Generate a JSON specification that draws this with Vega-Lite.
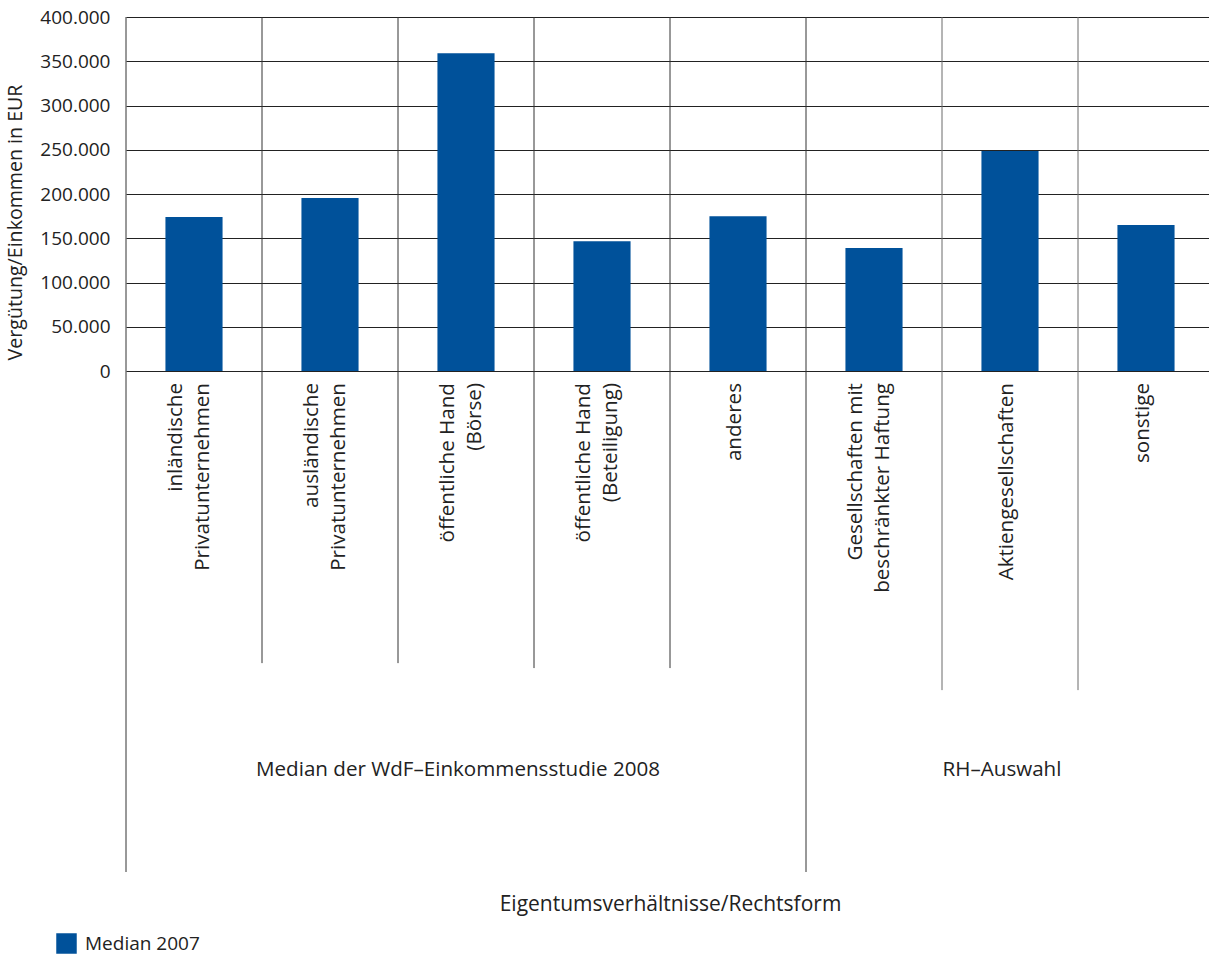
{
  "$schema": "https://vega.github.io/schema/vega-lite/v6.json",
  "autosize": {"type": "none"},
  "padding": {"left": 126, "top": 17, "right": 0, "bottom": 83},
  "width": 1083,
  "height": 855,
  "config": {
    "locale": {"number": {"decimal": ",", "thousands": ".", "grouping": [3], "currency": ["", " €"]}},
    "font": "Open Sans",
    "view": {"stroke": null},
    "text": {"font": "Open Sans", "color": "#222222"},
    "axisX": {
      "labels": false,
      "ticks": false,
      "domain": false,
      "grid": false,
      "titleFont": "Open Sans",
      "titleFontSize": 21,
      "titleFontWeight": "normal",
      "titleColor": "#222222",
      "titlePadding": 21
    }
  },
  "datasets": {
    "main": [
      {"kategorie": "inländische\nPrivatunternehmen", "wert": 174000, "serie": "Median 2007"},
      {"kategorie": "ausländische\nPrivatunternehmen", "wert": 195500, "serie": "Median 2007"},
      {"kategorie": "öffentliche Hand\n(Börse)", "wert": 359000, "serie": "Median 2007"},
      {"kategorie": "öffentliche Hand\n(Beteiligung)", "wert": 146500, "serie": "Median 2007"},
      {"kategorie": "anderes", "wert": 175000, "serie": "Median 2007"},
      {"kategorie": "Gesellschaften mit\nbeschränkter Haftung", "wert": 139000, "serie": "Median 2007"},
      {"kategorie": "Aktiengesellschaften", "wert": 248500, "serie": "Median 2007"},
      {"kategorie": "sonstige", "wert": 165000, "serie": "Median 2007"}
    ]
  },
  "layer": [
    {
      "data": {"name": "main"},
      "mark": {"type": "bar", "width": {"band": 0.42}},
      "encoding": {
        "x": {
          "field": "kategorie",
          "type": "nominal",
          "title": "Eigentumsverhältnisse/Rechtsform",
          "scale": {
            "domain": ["inländische\nPrivatunternehmen", "ausländische\nPrivatunternehmen", "öffentliche Hand\n(Börse)", "öffentliche Hand\n(Beteiligung)", "anderes", "Gesellschaften mit\nbeschränkter Haftung", "Aktiengesellschaften", "sonstige"],
            "range": [0, 1088],
            "paddingInner": 0,
            "paddingOuter": 0
          }
        },
        "y": {
          "field": "wert",
          "type": "quantitative",
          "scale": {"domain": [-566000, 400000], "nice": false, "zero": false},
          "axis": {
            "values": [0, 50000, 100000, 150000, 200000, 250000, 300000, 350000, 400000],
            "format": ",.0f",
            "grid": true,
            "gridColor": "#222222",
            "gridOpacity": 1,
            "gridWidth": 1,
            "ticks": false,
            "domain": false,
            "labelPadding": 16,
            "labelFont": "Open Sans",
            "labelFontSize": 19,
            "labelColor": "#222222",
            "title": "Vergütung/Einkommen in EUR",
            "titleFont": "Open Sans",
            "titleFontSize": 19.6,
            "titleFontWeight": "normal",
            "titleColor": "#222222",
            "titleAngle": 270,
            "titleAlign": "center",
            "titleBaseline": "alphabetic",
            "titleX": -105,
            "titleY": 205
          }
        },
        "color": {
          "field": "serie",
          "type": "nominal",
          "scale": {"range": ["#00519A"]},
          "legend": {
            "title": null,
            "orient": "none",
            "legendX": -70,
            "legendY": 916,
            "padding": 0,
            "symbolType": "square",
            "symbolSize": 420,
            "symbolStrokeWidth": 0,
            "labelFont": "Open Sans",
            "labelFontSize": 19,
            "labelColor": "#222222",
            "labelOffset": 8
          }
        }
      }
    },
    {
      "data": {"values": [{"kategorie": "inländische\nPrivatunternehmen"}, {"kategorie": "Gesellschaften mit\nbeschränkter Haftung"}]},
      "mark": {"type": "rule", "color": "#333333", "strokeWidth": 1},
      "encoding": {
        "x": {"field": "kategorie", "type": "nominal", "bandPosition": 0, "title": "Eigentumsverhältnisse/Rechtsform"},
        "y": {"datum": 400000, "type": "quantitative"},
        "y2": {"datum": -566000}
      }
    },
    {
      "data": {"values": [{"kategorie": "ausländische\nPrivatunternehmen"}, {"kategorie": "öffentliche Hand\n(Börse)"}]},
      "mark": {"type": "rule", "color": "#333333", "strokeWidth": 1},
      "encoding": {
        "x": {"field": "kategorie", "type": "nominal", "bandPosition": 0, "title": "Eigentumsverhältnisse/Rechtsform"},
        "y": {"datum": 400000, "type": "quantitative"},
        "y2": {"datum": -330000}
      }
    },
    {
      "data": {"values": [{"kategorie": "öffentliche Hand\n(Beteiligung)"}, {"kategorie": "anderes"}]},
      "mark": {"type": "rule", "color": "#333333", "strokeWidth": 1},
      "encoding": {
        "x": {"field": "kategorie", "type": "nominal", "bandPosition": 0, "title": "Eigentumsverhältnisse/Rechtsform"},
        "y": {"datum": 400000, "type": "quantitative"},
        "y2": {"datum": -335600}
      }
    },
    {
      "data": {"values": [{"kategorie": "Aktiengesellschaften"}, {"kategorie": "sonstige"}]},
      "mark": {"type": "rule", "color": "#6a6a6a", "strokeWidth": 1},
      "encoding": {
        "x": {"field": "kategorie", "type": "nominal", "bandPosition": 0, "title": "Eigentumsverhältnisse/Rechtsform"},
        "y": {"datum": 400000, "type": "quantitative"},
        "y2": {"datum": -360500}
      }
    },
    {
      "data": {"name": "main"},
      "transform": [{"filter": "indexof(datum.kategorie, '\\n') >= 0"}],
      "mark": {"type": "text", "angle": 270, "align": "right", "baseline": "middle", "dx": -12, "dy": -18, "fontSize": 20.6, "lineBreak": "\n", "lineHeight": 27},
      "encoding": {
        "x": {"field": "kategorie", "type": "nominal", "title": "Eigentumsverhältnisse/Rechtsform"},
        "y": {"datum": 0, "type": "quantitative"},
        "text": {"field": "kategorie"}
      }
    },
    {
      "data": {"name": "main"},
      "transform": [{"filter": "indexof(datum.kategorie, '\\n') < 0"}],
      "mark": {"type": "text", "angle": 270, "align": "right", "baseline": "middle", "dx": -12, "dy": -3, "fontSize": 20.6},
      "encoding": {
        "x": {"field": "kategorie", "type": "nominal", "title": "Eigentumsverhältnisse/Rechtsform"},
        "y": {"datum": 0, "type": "quantitative"},
        "text": {"field": "kategorie"}
      }
    },
    {
      "data": {"values": [
        {"gruppe": "Median der WdF–Einkommensstudie 2008", "kategorie": "öffentliche Hand\n(Börse)"},
        {"gruppe": "RH–Auswahl", "kategorie": "Aktiengesellschaften"}
      ]},
      "mark": {"type": "text", "align": "center", "baseline": "middle", "dx": -8, "fontSize": 20.6},
      "encoding": {
        "x": {"field": "kategorie", "type": "nominal", "title": "Eigentumsverhältnisse/Rechtsform"},
        "y": {"datum": -450800, "type": "quantitative"},
        "text": {"field": "gruppe"}
      }
    }
  ]
}
